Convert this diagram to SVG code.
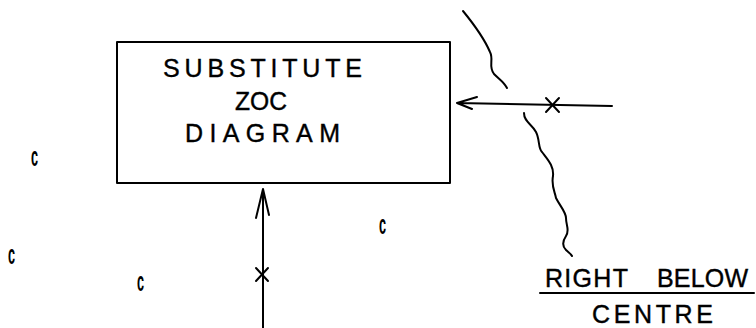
<svg xmlns="http://www.w3.org/2000/svg" width="756" height="328" viewBox="0 0 756 328">
<style>
.ln{fill:none;stroke:#000;stroke-width:2;stroke-linecap:round;stroke-linejoin:round}
.t{font-family:"Liberation Sans",Arial,sans-serif;font-size:25px;fill:#000;stroke:#000;stroke-width:0.4}
.c{font-family:"Liberation Sans",Arial,sans-serif;font-size:27px;font-weight:bold;fill:#000}
</style>
<rect width="756" height="328" fill="#fff"/>
<g id="box">
<rect x="117" y="42" width="333" height="141" class="ln"/>
<text class="t" x="163" y="77" textLength="199" lengthAdjust="spacing">SUBSTITUTE</text>
<text class="t" x="235" y="110" textLength="52" lengthAdjust="spacingAndGlyphs">ZOC</text>
<text class="t" x="185" y="142" textLength="155" lengthAdjust="spacing">DIAGRAM</text>
</g>
<g id="label">
<text class="t" x="545" y="287" textLength="83" lengthAdjust="spacing">RIGHT</text>
<text class="t" x="657" y="287" textLength="91" lengthAdjust="spacing">BELOW</text>
<line x1="540" y1="293" x2="754" y2="293" class="ln"/>
<text class="t" x="592" y="323" textLength="121" lengthAdjust="spacing">CENTRE</text>
</g>
<g id="marks">
<text class="c" transform="translate(31 166) scale(0.47 1)">c</text>
<text class="c" transform="translate(8 264) scale(0.47 1)">c</text>
<text class="c" transform="translate(137 291) scale(0.47 1)">c</text>
<text class="c" transform="translate(379 234) scale(0.47 1)">c</text>
</g>
<g id="connectors">
<path class="ln" d="M612 106 L457 103 M477 97 L457 103 L472 109"/>
<path class="ln" d="M546 98 L559 112 M546 112 L559 98"/>
<path class="ln" d="M263 328 L263 189 M256 218 L263 189 L269 215"/>
<path class="ln" d="M256 268 L268 281 M256 281 L268 268"/>
<path class="ln" d="M463 11 C472 22 484 38 490 52 C494 60 488 66 494 74 C500 80 504 82 507 88"/>
<path class="ln" d="M524 113 C524 122 532 124 536 132 C540 140 538 148 542 152 C548 160 554 166 553 176 C551 186 555 192 556 198 C560 206 566 212 566 218 C566 226 570 230 566 236 C562 242 562 246 566 250 C568 252 571 254 572 256"/>
</g>
</svg>
